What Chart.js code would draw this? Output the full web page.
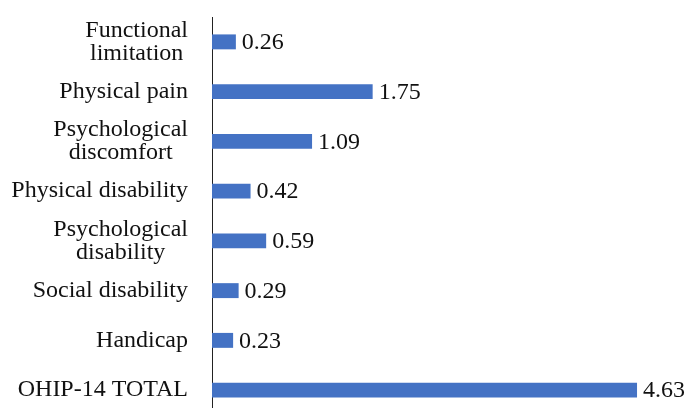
<!DOCTYPE html>
<html>
<head>
<meta charset="utf-8">
<script src="https://cdn.jsdelivr.net/npm/chart.js@4/dist/chart.umd.min.js"></script>
<style>
  html, body { margin: 0; padding: 0; background: #fff; overflow: hidden; }
</style>
</head>
<body>
<canvas id="myChart" width="686" height="415"></canvas>
<script>
// categories, top to bottom
var categories = [
  ["Functional", "limitation"],
  ["Physical pain"],
  ["Psychological", "discomfort"],
  ["Physical disability"],
  ["Psychological", "disability"],
  ["Social disability"],
  ["Handicap"],
  ["OHIP-14 TOTAL"]
];
var scores = [0.26, 1.75, 1.09, 0.42, 0.59, 0.29, 0.23, 4.63];
var xMin = 0;
var xMax = 5;

var FONT = "24px 'Liberation Serif', 'Times New Roman', serif";

// draws the category names (right aligned block, lines centred to each other)
// and the value next to each bar
var labelPlugin = {
  id: "labels",
  afterDatasetsDraw: function (chart) {
    var ctx = chart.ctx;
    var y = chart.scales.y;
    var meta = chart.getDatasetMeta(0);
    ctx.save();
    ctx.font = FONT;
    ctx.fillStyle = "#111";
    ctx.textBaseline = "middle";
    var right = y.right - 24;
    var lineH = 23;
    categories.forEach(function (lines, i) {
      var cy = y.getPixelForValue(i);
      var maxW = 0;
      lines.forEach(function (t) { maxW = Math.max(maxW, ctx.measureText(t).width); });
      var cx = right - maxW / 2;
      ctx.textAlign = "center";
      lines.forEach(function (t, j) {
        var ly = cy + (j - (lines.length - 1) / 2) * lineH;
        ctx.fillText(t, cx, ly);
      });
    });
    ctx.textAlign = "left";
    meta.data.forEach(function (bar, i) {
      ctx.fillText(scores[i].toFixed(2), bar.x + 6, bar.y + 1);
    });
    ctx.restore();
  }
};

var ctx = document.getElementById("myChart").getContext("2d");
var chart = new Chart(ctx, {
  type: "bar",
  data: {
    labels: categories,
    datasets: [
      {
        data: scores,
        backgroundColor: "#4472C4",
        borderWidth: 0,
        barPercentage: 0.3,
        categoryPercentage: 1
      }
    ]
  },
  options: {
    indexAxis: "y",
    responsive: false,
    animation: false,
    layout: { padding: { top: 17, right: 15, bottom: 0, left: 0 } },
    plugins: {
      legend: { display: false },
      tooltip: { enabled: false }
    },
    scales: {
      x: {
        display: false,
        min: xMin,
        max: xMax
      },
      y: {
        grid: { display: false },
        border: { display: true, color: "#222", width: 1 },
        ticks: { display: false },
        afterFit: function (scale) { scale.width = 212; }
      }
    }
  },
  plugins: [labelPlugin]
});
</script>
</body>
</html>
